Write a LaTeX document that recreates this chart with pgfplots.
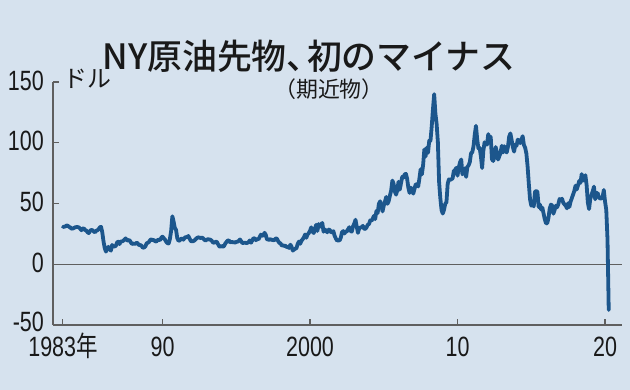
\documentclass[border=0pt]{standalone}
\usepackage{pgfplots}
\pgfplotsset{compat=1.18}
\usepackage{pgfplotstable}
\usepackage{graphicx}
\usepackage{fontspec}
\setmainfont{Liberation Sans}
\newfontfamily\jp{Noto Sans CJK JP}
\newfontfamily\jpm{Noto Sans CJK JP Medium}
\definecolor{bgcol}{RGB}{214,226,238}
\definecolor{linecol}{RGB}{28,86,140}
\definecolor{axisgray}{RGB}{95,95,95}
\definecolor{txt}{RGB}{25,25,25}
\newcommand\cond[1]{\scalebox{0.77}[1]{#1}}
\pgfplotstableread{
yr m v
1983 4 30.7
1983 5 30.9
1983 6 31.1
1983 7 32.0
1983 8 31.6
1983 9 30.8
1983 10 30.3
1983 11 29.3
1983 12 29.4
1984 1 29.9
1984 2 30.4
1984 3 30.6
1984 4 30.6
1984 5 30.3
1984 6 29.3
1984 7 28.0
1984 8 29.4
1984 9 29.5
1984 10 28.1
1984 11 27.8
1984 12 26.4
1985 1 25.6
1985 2 27.3
1985 3 28.3
1985 4 28.0
1985 5 27.0
1985 6 26.3
1985 7 27.5
1985 8 28.0
1985 9 28.7
1985 10 30.4
1985 11 30.8
1985 12 26.3
1986 1 18.8
1986 2 13.3
1986 3 10.4
1986 4 12.9
1986 5 14.3
1986 6 12.6
1986 7 11.2
1986 8 15.9
1986 9 14.5
1986 10 14.7
1986 11 15.0
1986 12 17.9
1987 1 18.6
1987 2 16.6
1987 3 18.8
1987 4 18.8
1987 5 19.3
1987 6 20.3
1987 7 21.3
1987 8 19.7
1987 9 19.6
1987 10 20.0
1987 11 18.5
1987 12 16.7
1988 1 17.0
1988 2 16.9
1988 3 16.8
1988 4 17.8
1988 5 17.0
1988 6 15.6
1988 7 15.9
1988 8 15.1
1988 9 13.6
1988 10 13.8
1988 11 14.6
1988 12 17.1
1989 1 17.6
1989 2 18.4
1989 3 20.0
1989 4 20.5
1989 5 19.7
1989 6 20.1
1989 7 18.9
1989 8 18.7
1989 9 19.9
1989 10 20.2
1989 11 19.8
1989 12 21.8
1990 1 22.7
1990 2 21.5
1990 3 20.3
1990 4 18.5
1990 5 17.4
1990 6 17.1
1990 7 20.7
1990 8 27.3
1990 9 39.5
1990 10 35.2
1990 11 29.9
1990 12 28.4
1991 1 21.5
1991 2 19.3
1991 3 19.6
1991 4 20.9
1991 5 21.1
1991 6 20.2
1991 7 21.8
1991 8 22.4
1991 9 22.2
1991 10 23.3
1991 11 21.2
1991 12 19.1
1992 1 18.9
1992 2 19.0
1992 3 19.6
1992 4 20.6
1992 5 21.6
1992 6 22.2
1992 7 21.9
1992 8 21.6
1992 9 21.9
1992 10 21.4
1992 11 20.2
1992 12 19.5
1993 1 20.3
1993 2 20.6
1993 3 20.4
1993 4 20.2
1993 5 19.4
1993 6 18.0
1993 7 17.7
1993 8 18.3
1993 9 18.7
1993 10 16.9
1993 11 15.0
1993 12 14.2
1994 1 15.2
1994 2 14.5
1994 3 14.8
1994 4 16.9
1994 5 18.3
1994 6 19.4
1994 7 19.7
1994 8 17.9
1994 9 18.4
1994 10 18.2
1994 11 18.1
1994 12 17.8
1995 1 18.4
1995 2 18.5
1995 3 19.2
1995 4 20.4
1995 5 18.9
1995 6 17.4
1995 7 17.6
1995 8 17.8
1995 9 17.5
1995 10 17.6
1995 11 18.2
1995 12 19.6
1996 1 17.7
1996 2 19.5
1996 3 21.5
1996 4 21.2
1996 5 19.8
1996 6 20.9
1996 7 20.4
1996 8 22.3
1996 9 24.4
1996 10 23.4
1996 11 23.8
1996 12 25.9
1997 1 24.2
1997 2 20.3
1997 3 20.4
1997 4 20.0
1997 5 20.9
1997 6 19.8
1997 7 20.1
1997 8 19.6
1997 9 21.2
1997 10 21.1
1997 11 19.2
1997 12 17.6
1998 1 17.2
1998 2 15.4
1998 3 15.6
1998 4 15.1
1998 5 15.2
1998 6 14.2
1998 7 14.2
1998 8 13.4
1998 9 16.1
1998 10 14.4
1998 11 11.2
1998 12 12.1
1999 1 12.8
1999 2 13.3
1999 3 16.8
1999 4 18.7
1999 5 16.8
1999 6 19.3
1999 7 20.5
1999 8 22.1
1999 9 24.5
1999 10 21.8
1999 11 24.5
1999 12 25.6
2000 1 27.6
2000 2 30.4
2000 3 26.9
2000 4 25.7
2000 5 29.0
2000 6 32.5
2000 7 27.4
2000 8 33.1
2000 9 30.8
2000 10 32.7
2000 11 34.0
2000 12 26.8
2001 1 28.7
2001 2 27.4
2001 3 26.3
2001 4 28.5
2001 5 28.4
2001 6 26.3
2001 7 26.4
2001 8 27.2
2001 9 23.4
2001 10 21.2
2001 11 19.4
2001 12 19.8
2002 1 19.5
2002 2 21.7
2002 3 26.3
2002 4 27.3
2002 5 25.3
2002 6 26.9
2002 7 27.0
2002 8 28.9
2002 9 30.5
2002 10 27.2
2002 11 26.9
2002 12 31.2
2003 1 33.5
2003 2 36.6
2003 3 31.0
2003 4 25.8
2003 5 29.6
2003 6 30.2
2003 7 30.5
2003 8 31.6
2003 9 29.2
2003 10 29.1
2003 11 30.4
2003 12 32.5
2004 1 33.1
2004 2 36.2
2004 3 35.8
2004 4 37.4
2004 5 39.9
2004 6 37.1
2004 7 43.8
2004 8 42.1
2004 9 49.6
2004 10 51.8
2004 11 49.1
2004 12 43.5
2005 1 48.2
2005 2 51.8
2005 3 55.4
2005 4 49.7
2005 5 52.0
2005 6 56.5
2005 7 60.6
2005 8 68.9
2005 9 66.2
2005 10 59.8
2005 11 57.3
2005 12 61.0
2006 1 67.9
2006 2 61.4
2006 3 66.6
2006 4 71.9
2006 5 71.3
2006 6 74.0
2006 7 74.4
2006 8 70.3
2006 9 62.9
2006 10 58.7
2006 11 63.1
2006 12 61.1
2007 1 58.1
2007 2 62.0
2007 3 65.9
2007 4 65.7
2007 5 64.0
2007 6 70.7
2007 7 78.2
2007 8 74.0
2007 9 81.7
2007 10 94.5
2007 11 88.7
2007 12 96.0
2008 1 91.8
2008 2 101.8
2008 3 101.6
2008 4 113.5
2008 5 127.4
2008 6 140.0
2008 7 124.1
2008 8 115.5
2008 9 100.6
2008 10 67.8
2008 11 54.4
2008 12 44.6
2009 1 41.7
2009 2 44.8
2009 3 49.7
2009 4 51.1
2009 5 66.3
2009 6 69.9
2009 7 69.5
2009 8 70.0
2009 9 70.6
2009 10 77.0
2009 11 77.3
2009 12 79.4
2010 1 72.9
2010 2 79.7
2010 3 83.8
2010 4 86.2
2010 5 74.0
2010 6 75.6
2010 7 79.0
2010 8 71.9
2010 9 80.0
2010 10 81.4
2010 11 84.1
2010 12 91.4
2011 1 92.2
2011 2 97.0
2011 3 106.7
2011 4 113.9
2011 5 102.7
2011 6 95.4
2011 7 95.7
2011 8 88.8
2011 9 79.2
2011 10 93.2
2011 11 100.4
2011 12 98.8
2012 1 98.5
2012 2 107.1
2012 3 103.0
2012 4 104.9
2012 5 86.5
2012 6 85.0
2012 7 88.1
2012 8 96.5
2012 9 92.2
2012 10 86.2
2012 11 88.9
2012 12 91.8
2013 1 97.5
2013 2 92.0
2013 3 97.2
2013 4 93.5
2013 5 92.0
2013 6 96.6
2013 7 105.0
2013 8 107.7
2013 9 102.3
2013 10 96.4
2013 11 92.7
2013 12 98.4
2014 1 97.5
2014 2 102.6
2014 3 101.6
2014 4 99.7
2014 5 102.7
2014 6 105.4
2014 7 98.2
2014 8 96.0
2014 9 91.2
2014 10 80.5
2014 11 66.2
2014 12 53.3
2015 1 48.2
2015 2 49.8
2015 3 47.6
2015 4 59.6
2015 5 60.3
2015 6 59.5
2015 7 47.1
2015 8 49.2
2015 9 45.1
2015 10 46.6
2015 11 41.7
2015 12 37.0
2016 1 33.6
2016 2 33.8
2016 3 38.3
2016 4 45.9
2016 5 49.1
2016 6 48.3
2016 7 41.6
2016 8 44.7
2016 9 48.2
2016 10 46.9
2016 11 49.4
2016 12 53.7
2017 1 52.8
2017 2 54.0
2017 3 50.6
2017 4 49.3
2017 5 48.3
2017 6 46.0
2017 7 50.2
2017 8 47.2
2017 9 51.7
2017 10 54.4
2017 11 57.4
2017 12 60.4
2018 1 64.7
2018 2 61.6
2018 3 64.9
2018 4 68.6
2018 5 67.0
2018 6 74.2
2018 7 68.8
2018 8 69.8
2018 9 73.3
2018 10 65.3
2018 11 50.9
2018 12 45.4
2019 1 53.8
2019 2 57.2
2019 3 60.1
2019 4 63.9
2019 5 53.5
2019 6 58.5
2019 7 58.6
2019 8 55.1
2019 9 54.1
2019 10 54.2
2019 11 55.2
2019 12 61.1
2020 1 51.6
2020 2 44.8
2020 3 20.5
2020 4 -37.6
}\wti
\begin{document}
\begin{tikzpicture}
\fill[bgcol] (0,0) rectangle (630bp,390bp);
\begin{axis}[
  at={(53bp,65bp)}, anchor=south west,
  scale only axis, width=569bp, height=243bp,
  xmin=1982.576, xmax=2021.15, ymin=-50, ymax=150,
  axis x line*=bottom, axis y line*=left,
  axis line style={draw=axisgray, line width=1.1bp, -},
  tick style={draw=axisgray, line width=1.1bp},
  tick align=inside, major tick length=6bp,
  xtick={1983.25,1990,2000,2010,2020},
  xticklabels={\cond{1983{\jp 年}},\cond{90},\cond{2000},\cond{10},\cond{20}},
  ytick={-50,50,100,150},
  yticklabels={\raisebox{4bp}{\cond{-50}},\cond{50},\cond{100},\cond{150}},
  extra y ticks={0}, extra y tick labels={\cond{0}},
  extra y tick style={grid=major, major grid style={draw=axisgray, line width=1.1bp}, major tick length=0pt},
  ticklabel style={font=\fontsize{28}{28}\selectfont, text=txt, inner sep=0pt},
  xticklabel style={anchor=base, yshift=-32bp},
  yticklabel style={anchor=east, xshift=-9bp, yshift=1.5bp},
  clip=false,
]
\addplot[linecol, line width=3.8bp, line join=round, line cap=round]
  table[x expr=\thisrow{yr}+(\thisrow{m}-1)/12, y=v] {\wti};
\end{axis}
\node[font=\jpm\fontsize{35}{35}\selectfont, text=txt, anchor=base] at (309bp,320bp) {NY原油先物、\kern-0.42em初のマイナス};
\node[font=\jp\fontsize{22}{22}\selectfont, text=txt, anchor=base] at (329bp,292bp) {（期近物）};
\node[font=\jp\fontsize{24}{24}\selectfont, text=txt, anchor=west, inner sep=0pt] at (63bp,311bp) {ドル};
\pgfresetboundingbox
\useasboundingbox (0,0) rectangle (630bp,390bp);
\end{tikzpicture}
\end{document}
